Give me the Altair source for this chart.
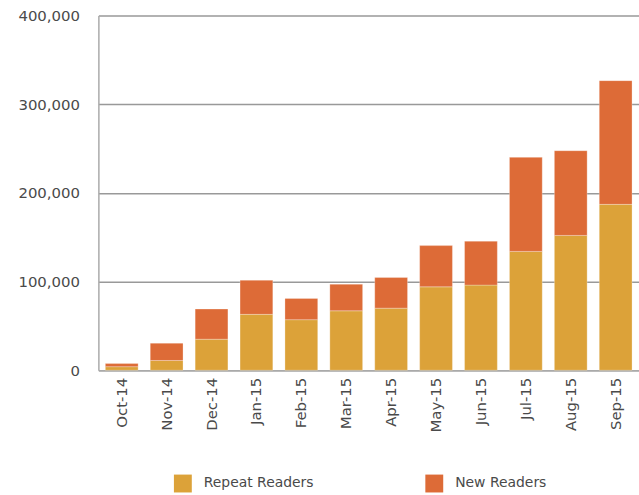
import altair as alt
import pandas as pd

months = ["Oct-14", "Nov-14", "Dec-14", "Jan-15", "Feb-15", "Mar-15",
          "Apr-15", "May-15", "Jun-15", "Jul-15", "Aug-15", "Sep-15"]
repeat_readers = [4000, 11000, 35000, 63000, 57000, 67000,
                  70000, 94000, 96000, 134000, 152000, 187000]
new_readers = [3500, 19500, 34000, 38500, 24000, 30000,
               34500, 46500, 49500, 106000, 95500, 139500]

series = ["Repeat Readers", "New Readers"]
colors = ["#DCA239", "#DD6B37"]

rows = []
for m, r, n in zip(months, repeat_readers, new_readers):
    rows.append({"month": m, "series": series[0], "value": r, "rank": 0})
    rows.append({"month": m, "series": series[1], "value": n, "rank": 1})
df = pd.DataFrame(rows)

font = "DejaVu Sans"
text_color = "#4a4a4a"

chart = (
    alt.Chart(df)
    .mark_bar(stroke="#ffffff", strokeOpacity=0.35, strokeWidth=0.8)
    .encode(
        x=alt.X(
            "month:N",
            sort=months,
            title=None,
            scale=alt.Scale(paddingInner=0.27, paddingOuter=0.155),
            axis=alt.Axis(
                labelAngle=-90,
                labelAlign="right",
                labelBaseline="middle",
                labelPadding=7,
                ticks=False,
                domainColor="#aaaaaa",
                domainWidth=1.5,
                labelFont=font,
                labelFontSize=15,
                labelColor=text_color,
            ),
        ),
        y=alt.Y(
            "value:Q",
            stack="zero",
            title=None,
            scale=alt.Scale(domain=[0, 400000], nice=False),
            axis=alt.Axis(
                values=[0, 100000, 200000, 300000, 400000],
                format=",d",
                ticks=False,
                labelPadding=19,
                domainColor="#aaaaaa",
                domainWidth=1.5,
                gridColor="#999999",
                gridWidth=1.5,
                labelFont=font,
                labelFontSize=15,
                labelColor=text_color,
            ),
        ),
        color=alt.Color(
            "series:N",
            sort=series,
            scale=alt.Scale(domain=series, range=colors),
            legend=alt.Legend(
                title=None,
                orient="none",
                direction="horizontal",
                legendX=76,
                legendY=462,
                symbolType="square",
                symbolSize=324,
                symbolStrokeWidth=0,
                symbolOpacity=1,
                columnPadding=112,
                labelFont=font,
                labelFontSize=14,
                labelColor=text_color,
                labelOffset=12,
            ),
        ),
        order=alt.Order("rank:Q", sort="ascending"),
    )
    .properties(
        width=544,
        height=357,
        autosize=alt.AutoSizeParams(type="none"),
        padding={"left": 99, "top": 14, "right": 0, "bottom": 124},
    )
    .configure_view(stroke=None)
)

chart.save("out.html", embed_options={"renderer": "svg", "actions": False})
